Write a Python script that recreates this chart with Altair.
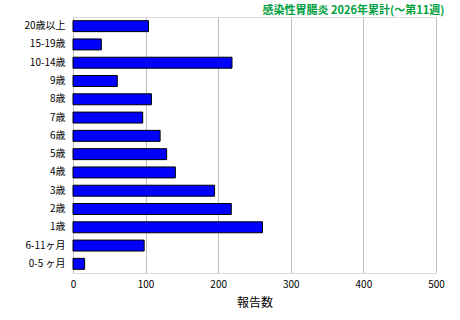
import altair as alt
import pandas as pd

categories = ["20歳以上", "15-19歳", "10-14歳", "9歳", "8歳", "7歳", "6歳", "5歳",
              "4歳", "3歳", "2歳", "1歳", "6-11ヶ月", "0-5 ヶ月"]
values = [104, 39, 219, 61, 108, 96, 120, 129, 141, 195, 218, 261, 98, 16]

df = pd.DataFrame({"age": categories, "count": values})

FONT = "Noto Sans CJK JP"

chart = alt.Chart(df).mark_bar(
    color="#0000ff", stroke="#000000", strokeWidth=1
).encode(
    x=alt.X("count:Q", title="報告数",
            scale=alt.Scale(domain=[0, 500], nice=False),
            axis=alt.Axis(values=[0, 100, 200, 300, 400, 500], grid=True,
                          gridColor="#c0c0c0", gridWidth=1, ticks=False,
                          domain=False, labelPadding=6, labelFontSize=10,
                          labelColor="#000000", titleFontSize=12,
                          titleFontWeight="normal", titleColor="#000000",
                          titlePadding=8, labelFont=FONT, titleFont=FONT,
                          labelFlush=False)),
    y=alt.Y("age:N", sort=categories, title=None,
            scale=alt.Scale(paddingInner=0.4, paddingOuter=0.2),
            axis=alt.Axis(ticks=False, domain=False, labelPadding=8,
                          labelFontSize=10, labelColor="#000000",
                          labelFont=FONT, grid=False)),
).properties(
    width=363, height=256,
    title=alt.TitleParams("感染性胃腸炎 2026年累計(〜第11週)", anchor="end",
                          color="#00a040", fontSize=11, font=FONT,
                          fontWeight="bold", offset=0, dy=-1),
    autosize=alt.AutoSizeParams(type="none"),
    padding={"left": 73, "top": 17, "right": 24, "bottom": 47},
).configure_view(
    stroke="#000000", strokeWidth=1.5
).configure(background="#ffffff")

chart.save("out.html", embed_options={"renderer": "svg", "actions": False})
